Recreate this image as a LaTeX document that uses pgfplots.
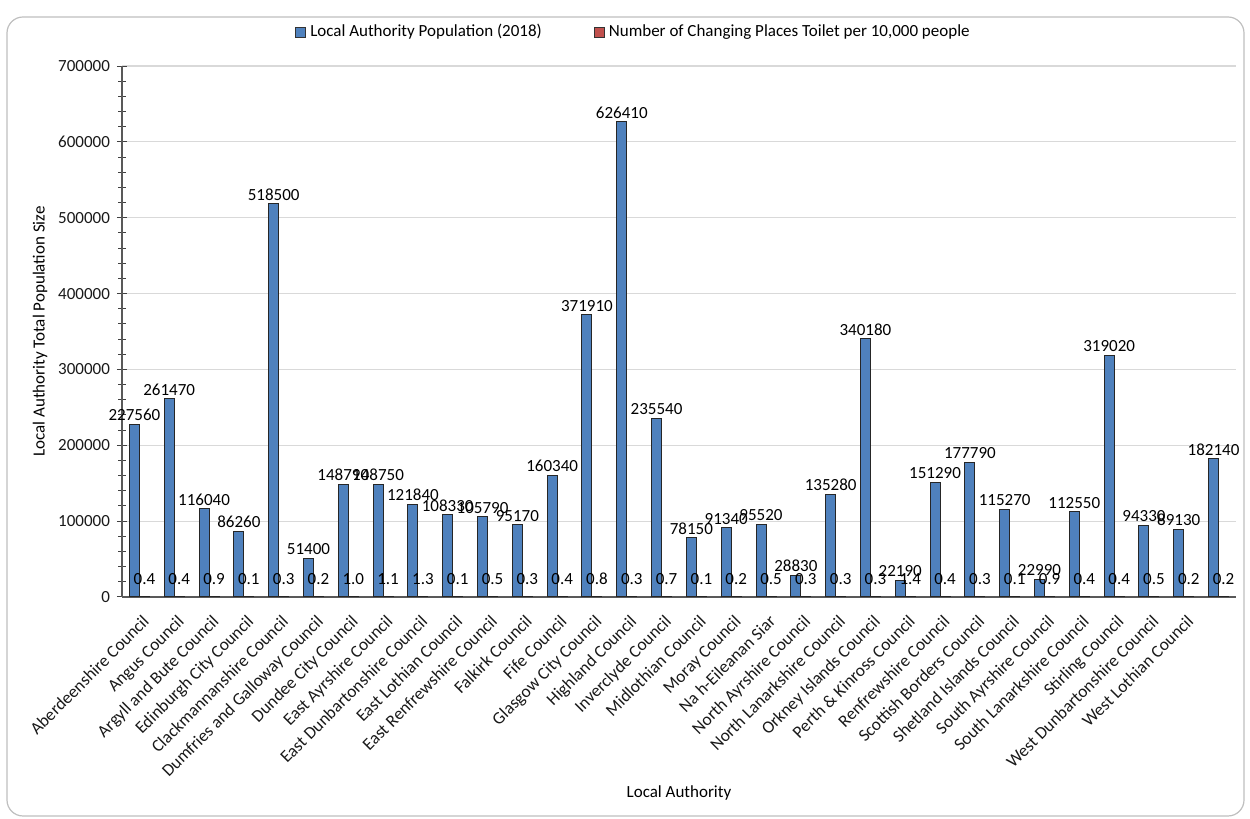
\documentclass[border=0pt]{standalone}
\usepackage{fontspec}
\setmainfont{Carlito}
\usepackage{pgfplots}
\pgfplotsset{compat=1.18}

\definecolor{barblue}{HTML}{4F81BD}
\definecolor{barred}{HTML}{C0504D}
\definecolor{gridgray}{HTML}{D9D9D9}
\definecolor{framegray}{HTML}{BFBFBF}
\newcommand{\chartfont}{\fontsize{8.5}{10}\selectfont}

\pgfplotsset{
  boxlegend/.style={legend image code/.code={
    \draw[##1,draw=black!80,line width=0.5pt] (0pt,-2.5pt) rectangle (5pt,2.5pt);}},
}

\begin{document}
\begin{tikzpicture}
\useasboundingbox (0,0) rectangle (625pt,409.5pt);
\draw[framegray, line width=0.6pt, rounded corners=8pt] (3.5pt,1.5pt) rectangle (622pt,401pt);
\begin{axis}[
    at={(61pt,111pt)}, anchor=south west,
    scale only axis, width=557pt, height=265.5pt,
    ybar=0pt, bar width=5pt,
    xmin=-0.5, xmax=31.5, ymin=0, ymax=700000,
    axis x line*=bottom, axis y line*=left,
    axis line style={black!65, line width=0.6pt},
    tick align=center,
    major tick length=5pt, minor tick length=4pt,
    xtick={0,...,30},
    xtick style={draw=none},
    minor xtick={-0.5,0.5,...,31.5},
    minor x tick style={black!55, line width=0.5pt},
    ytick={0,100000,...,700000},
    minor y tick num=4,
    ytick style={black!75, line width=0.5pt},
    minor y tick style={black!75, line width=0.5pt},
    ymajorgrids, major grid style={gridgray, line width=0.6pt},
    scaled y ticks=false,
    /pgf/number format/assume math mode=true,
    /pgf/number format/fixed,
    /pgf/number format/precision=0,
    /pgf/number format/1000 sep={},
    tick label style={font=\chartfont, text=black!90},
    xticklabel style={rotate=45, anchor=north east, yshift=-1.5pt,
      font=\fontsize{8.7}{10}\selectfont},
    xticklabels={Aberdeenshire Council, Angus Council, Argyll and Bute Council,
      Edinburgh City Council, Clackmannanshire Council, Dumfries and Galloway Council,
      Dundee City Council, East Ayrshire Council, East Dunbartonshire Council,
      East Lothian Council, East Renfrewshire Council, Falkirk Council, Fife Council,
      Glasgow City Council, Highland Council, Inverclyde Council, Midlothian Council,
      Moray Council, Na h-Eileanan Siar, North Ayrshire Council,
      North Lanarkshire Council, Orkney Islands Council, Perth \& Kinross Council,
      Renfrewshire Council, Scottish Borders Council, Shetland Islands Council,
      South Ayrshire Council, South Lanarkshire Council, Stirling Council,
      West Dunbartonshire Council, West Lothian Council},
    xlabel={Local Authority},
    xlabel style={at={(axis description cs:0.5,-0.369)}, anchor=center, font=\chartfont},
    ylabel={Local Authority Total Population Size},
    ylabel style={at={(axis description cs:-0.0736,0.5)}, anchor=center, font=\chartfont},
    legend style={at={(axis description cs:0.46,1.064)}, anchor=center, draw=none,
      fill=none, font=\chartfont, legend columns=2,
      /tikz/every even column/.append style={column sep=24pt}},
    clip=false,
]
\addplot[boxlegend, fill=barblue, draw=black!85, line width=0.5pt,
  nodes near coords,
  every node near coord/.append style={font=\chartfont, inner sep=1.5pt, text=black}]
  coordinates {
  (0,227560) (1,261470) (2,116040) (3,86260) (4,518500) (5,51400) (6,148790)
  (7,148750) (8,121840) (9,108330) (10,105790) (11,95170) (12,160340) (13,371910)
  (14,626410) (15,235540) (16,78150) (17,91340) (18,95520) (19,28830) (20,135280)
  (21,340180) (22,22190) (23,151290) (24,177790) (25,115270) (26,22990) (27,112550)
  (28,319020) (29,94330) (30,89130) (31,182140)
};
\addlegendentry{Local Authority Population (2018)}
\addplot[boxlegend, fill=barred, draw=black!85, line width=0.5pt,
  nodes near coords={\pgfmathprintnumber[fixed,fixed zerofill,precision=1]{\pgfplotspointmeta}},
  every node near coord/.append style={font=\chartfont, inner sep=1.5pt, yshift=4.5pt, text=black}]
  coordinates {
  (0,0.4) (1,0.4) (2,0.9) (3,0.1) (4,0.3) (5,0.2) (6,1.0) (7,1.1) (8,1.3) (9,0.1)
  (10,0.5) (11,0.3) (12,0.4) (13,0.8) (14,0.3) (15,0.7) (16,0.1) (17,0.2) (18,0.5)
  (19,0.3) (20,0.3) (21,0.3) (22,1.4) (23,0.4) (24,0.3) (25,0.1) (26,0.9) (27,0.4)
  (28,0.4) (29,0.5) (30,0.2) (31,0.2)
};
\addlegendentry{Number of Changing Places Toilet per 10,000 people}
\end{axis}
\end{tikzpicture}
\end{document}
